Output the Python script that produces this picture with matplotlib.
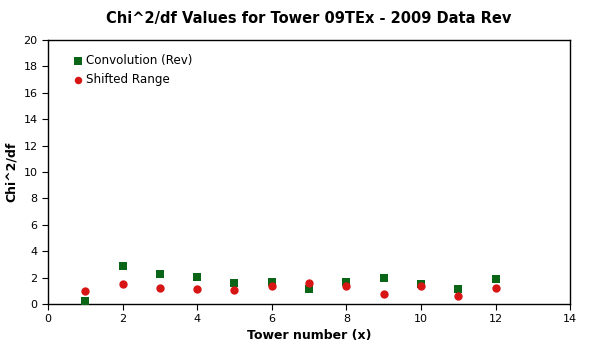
import matplotlib
matplotlib.use("Agg")
import matplotlib.pyplot as plt

towers = [1, 2, 3, 4, 5, 6, 7, 8, 9, 10, 11, 12]
convolution = [0.25, 2.85, 2.25, 2.02, 1.57, 1.64, 1.11, 1.64, 1.95, 1.49, 1.11, 1.87]
shifted = [1.01, 1.54, 1.24, 1.16, 1.08, 1.39, 1.62, 1.39, 0.78, 1.39, 0.63, 1.24]
xticks = [0, 2, 4, 6, 8, 10, 12, 14]
yticks = [0, 2, 4, 6, 8, 10, 12, 14, 16, 18, 20]

plt.rcParams['font.family'] = ['DejaVu Sans']
fig = plt.figure(figsize=(5.92, 3.56), dpi=100)
ax = fig.add_axes([0.0811, 0.146, 0.882, 0.742])

ax.scatter(towers, convolution, marker='s', s=36, color='#0b6516', label='Convolution (Rev)', zorder=3, linewidths=0)
ax.scatter(towers, shifted, marker='o', s=36, color='#d81515', label='Shifted Range', zorder=3, linewidths=0)

ax.set_xlim(0, 14)
ax.set_ylim(0, 20)
ax.set_xticks(xticks)
ax.set_yticks(yticks)
ax.tick_params(labelsize=8, length=4, direction='out', width=0.8)
for s in ax.spines.values():
    s.set_linewidth(1.0)

ax.set_title('Chi^2/df Values for Tower 09TEx - 2009 Data Rev', fontsize=10.5, fontweight='bold', pad=12)
ax.set_xlabel('Tower number (x)', fontsize=9, fontweight='bold', labelpad=3)
ax.set_ylabel('Chi^2/df', fontsize=9, fontweight='bold', labelpad=4)

ax.legend(loc='upper left', frameon=False, fontsize=8.6, handletextpad=0.1, borderaxespad=0.6,
          markerscale=0.9, handlelength=1.0, labelspacing=0.45, bbox_to_anchor=(0.024, 0.99))

fig.savefig('out.png', dpi=100)
